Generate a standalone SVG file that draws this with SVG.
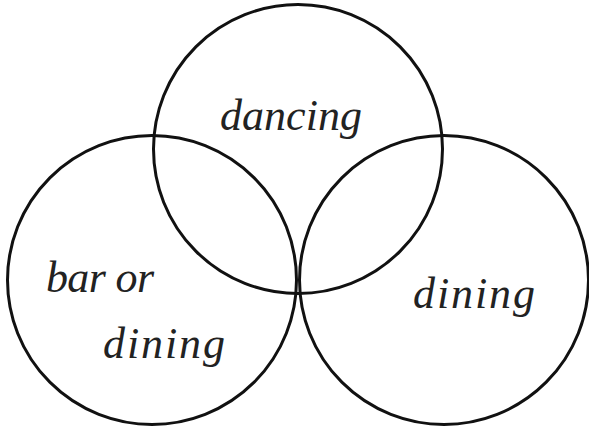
<svg xmlns="http://www.w3.org/2000/svg" width="589" height="430" viewBox="0 0 589 430">
<style>
.c{fill:none;stroke:#111;stroke-width:3}
.t{font-family:"Liberation Serif","DejaVu Serif",serif;font-style:italic;font-size:44px;fill:#222}
</style>
<rect width="589" height="430" fill="#fff"/>
<g id="connectors"/>
<g id="node-dancing">
<circle class="c" cx="298" cy="149" r="144.5"/>
<text class="t" x="220" y="130" textLength="142" lengthAdjust="spacing">dancing</text>
</g>
<g id="node-bar">
<circle class="c" cx="152" cy="280" r="144.5"/>
<text class="t" x="46" y="292" textLength="108" lengthAdjust="spacing">bar or</text>
<text class="t" x="103" y="358" textLength="122" lengthAdjust="spacing">dining</text>
</g>
<g id="node-dining">
<circle class="c" cx="444" cy="280" r="144.5"/>
<text class="t" x="413" y="308" textLength="122" lengthAdjust="spacing">dining</text>
</g>
</svg>
